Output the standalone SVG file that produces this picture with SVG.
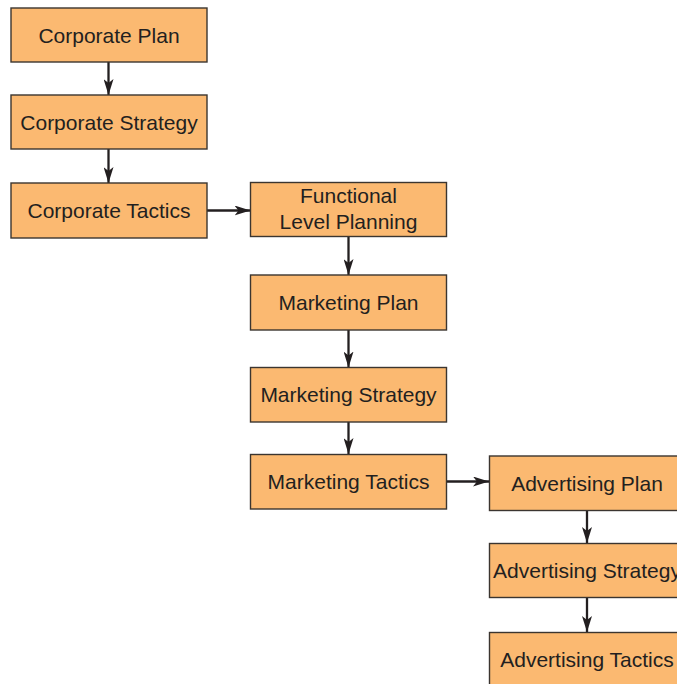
<svg xmlns="http://www.w3.org/2000/svg" width="677" height="684" viewBox="0 0 677 684">
<style>
.box{fill:#fbb971;stroke:#3b3530;stroke-width:1.4}
.lbl{font-family:"Liberation Sans",Arial,sans-serif;font-size:21px;fill:#231f20;text-anchor:middle}
.con{stroke:#231f20;stroke-width:2.3;fill:none}
</style>
<defs>
<marker id="ah" viewBox="0 0 16 10" refX="16" refY="5" markerWidth="16" markerHeight="10" markerUnits="userSpaceOnUse" orient="auto">
<path d="M0,0 L16,5 L0,10 L4,5 Z" fill="#231f20"/>
</marker>
</defs>
<rect width="677" height="684" fill="#ffffff"/>
<g id="connectors">
<line class="con" x1="108.5" y1="62" x2="108.5" y2="95" marker-end="url(#ah)"/>
<line class="con" x1="108.5" y1="149" x2="108.5" y2="183" marker-end="url(#ah)"/>
<line class="con" x1="207" y1="210.5" x2="250.5" y2="210.5" marker-end="url(#ah)"/>
<line class="con" x1="348.5" y1="237" x2="348.5" y2="275" marker-end="url(#ah)"/>
<line class="con" x1="348.5" y1="330" x2="348.5" y2="367.5" marker-end="url(#ah)"/>
<line class="con" x1="348.5" y1="422" x2="348.5" y2="454" marker-end="url(#ah)"/>
<line class="con" x1="447" y1="481.5" x2="489" y2="481.5" marker-end="url(#ah)"/>
<line class="con" x1="587" y1="511" x2="587" y2="543" marker-end="url(#ah)"/>
<line class="con" x1="587" y1="598" x2="587" y2="632" marker-end="url(#ah)"/>
</g>
<g id="corporate-plan">
<rect class="box" x="11" y="8" width="196" height="54"/>
<text class="lbl" x="109" y="42.5">Corporate Plan</text>
</g>
<g id="corporate-strategy">
<rect class="box" x="11" y="95" width="196" height="54"/>
<text class="lbl" x="109" y="129.5">Corporate Strategy</text>
</g>
<g id="corporate-tactics">
<rect class="box" x="11" y="183" width="196" height="55"/>
<text class="lbl" x="109" y="218">Corporate Tactics</text>
</g>
<g id="functional-level-planning">
<rect class="box" x="250.5" y="182.5" width="196" height="54"/>
<text class="lbl" x="348.5" y="202.5">Functional</text>
<text class="lbl" x="348.5" y="228.5">Level Planning</text>
</g>
<g id="marketing-plan">
<rect class="box" x="250.5" y="275" width="196" height="55"/>
<text class="lbl" x="348.5" y="309.5">Marketing Plan</text>
</g>
<g id="marketing-strategy">
<rect class="box" x="250.5" y="367.5" width="196" height="54.5"/>
<text class="lbl" x="348.5" y="402">Marketing Strategy</text>
</g>
<g id="marketing-tactics">
<rect class="box" x="250.5" y="454.5" width="196" height="54.5"/>
<text class="lbl" x="348.5" y="489">Marketing Tactics</text>
</g>
<g id="advertising-plan">
<rect class="box" x="489.5" y="456" width="196" height="54.5"/>
<text class="lbl" x="587" y="491">Advertising Plan</text>
</g>
<g id="advertising-strategy">
<rect class="box" x="489.5" y="543.5" width="196" height="54"/>
<text class="lbl" x="587" y="578">Advertising Strategy</text>
</g>
<g id="advertising-tactics">
<rect class="box" x="489.5" y="632.5" width="196" height="60"/>
<text class="lbl" x="587" y="667">Advertising Tactics</text>
</g>
</svg>
